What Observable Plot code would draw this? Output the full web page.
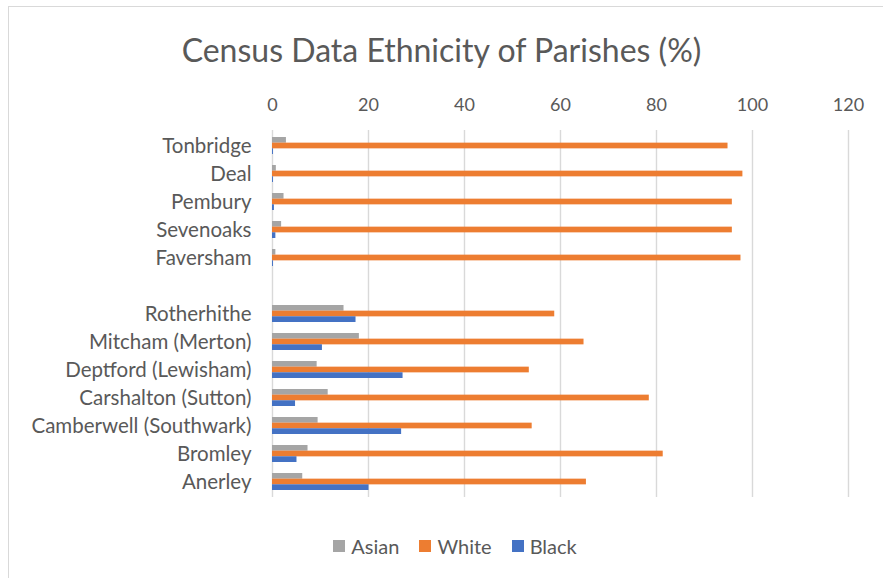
<!DOCTYPE html>
<html>
<head>
<meta charset="utf-8">
<script src="https://cdn.jsdelivr.net/npm/d3@7"></script>
<script src="https://cdn.jsdelivr.net/npm/@observablehq/plot@0.6"></script>
<style>
  html, body { margin: 0; padding: 0; background: #fff; }
  #chart { position: relative; width: 883px; height: 578px; overflow: hidden; font-family: Lato, "Open Sans", sans-serif; color: #595959; }
  #frame { position: absolute; left: 8px; top: 6px; width: 900px; height: 600px; border-left: 1.5px solid #d9d9d9; border-top: 1.5px solid #d9d9d9; }
  #title { position: absolute; left: 0; width: 883px; top: 29px; text-align: center; font-size: 32px; line-height: 42px; }
  #plot { position: absolute; left: 0; top: 80px; }
  #legend { position: absolute; left: 0; width: 910px; top: 532px; display: flex; justify-content: center; gap: 20px; font-size: 20px; line-height: 28px; }
  #legend span.item { display: flex; align-items: center; gap: 6px; }
  #legend span.sw { width: 12px; height: 12px; display: inline-block; }
</style>
</head>
<body>
<div id="chart">
  <div id="frame"></div>
  <div id="title">Census Data Ethnicity of Parishes (%)</div>
  <div id="plot"></div>
  <div id="legend"></div>
</div>
<script>
// Parishes, top to bottom; the blank entry separates the two groups
const categories = ["Tonbridge", "Deal", "Pembury", "Sevenoaks", "Faversham", " ",
  "Rotherhithe", "Mitcham (Merton)", "Deptford (Lewisham)", "Carshalton (Sutton)",
  "Camberwell (Southwark)", "Bromley", "Anerley"];
const parishes = categories.filter(c => c.trim() !== "");

// Percentage of population by ethnicity, in the order of `parishes`
const asian = [2.9, 0.8, 2.4, 1.9, 0.7, 14.9, 18.1, 9.3, 11.6, 9.5, 7.4, 6.3];
const white = [94.9, 98.0, 95.8, 95.8, 97.6, 58.8, 64.9, 53.5, 78.5, 54.1, 81.4, 65.4];
const black = [0.2, 0.2, 0.4, 0.7, 0.2, 17.4, 10.4, 27.2, 4.8, 26.9, 5.1, 20.1];

const seriesNames = ["Asian", "White", "Black"];
const seriesColors = ["#A5A5A5", "#ED7D31", "#4472C4"];
const xTicks = [0, 20, 40, 60, 80, 100, 120];

const rows = (vals) => parishes.map((p, i) => ({ parish: p, value: vals[i] }));

const width = 883, height = 430;
const marginTop = 50, marginBottom = 13, marginLeft = 272, marginRight = 35;
const band = (height - marginTop - marginBottom) / categories.length * 0.6;
const third = band / 3;

const chart = Plot.plot({
  width, height, marginTop, marginBottom, marginLeft, marginRight,
  style: { fontFamily: "Lato, 'Open Sans', sans-serif", fontSize: "18px", color: "#595959", background: "transparent" },
  x: { domain: [0, 120], axis: "top", ticks: xTicks, tickSize: 0, tickPadding: 20, label: null },
  y: { domain: categories, paddingInner: 0.4, paddingOuter: 0.2, axis: null },
  marks: [
    Plot.ruleX(xTicks, { stroke: "#d9d9d9", strokeWidth: 1.4 }),
    Plot.axisY({ tickSize: 0, tickPadding: 21, label: null, fontSize: 20.5 }),
    Plot.barX(rows(asian), { x: "value", y: "parish", fill: seriesColors[0], insetBottom: 2 * third }),
    Plot.barX(rows(white), { x: "value", y: "parish", fill: seriesColors[1], insetTop: third, insetBottom: third }),
    Plot.barX(rows(black), { x: "value", y: "parish", fill: seriesColors[2], insetTop: 2 * third })
  ]
});
document.getElementById("plot").appendChild(chart);

// Legend
const legend = document.getElementById("legend");
seriesNames.forEach((name, i) => {
  const item = document.createElement("span");
  item.className = "item";
  const sw = document.createElement("span");
  sw.className = "sw";
  sw.style.background = seriesColors[i];
  item.appendChild(sw);
  item.appendChild(document.createTextNode(name));
  legend.appendChild(item);
});
</script>
</body>
</html>
